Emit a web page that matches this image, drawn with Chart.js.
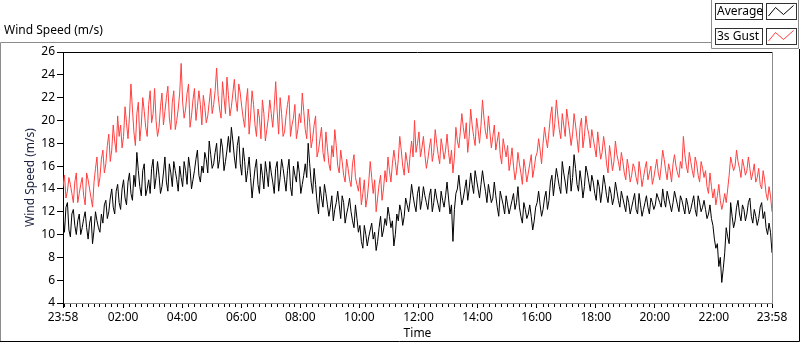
<!DOCTYPE html>
<html>
<head>
<meta charset="utf-8">
<script src="https://cdn.jsdelivr.net/npm/chart.js@4"></script>
<style>
  html, body { margin: 0; padding: 0; background: #fff; }
  canvas { display: block; }
</style>
</head>
<body>
<canvas id="windChart" width="800" height="342"></canvas>
<script>
// samples every 3 minutes, 23:58 -> 23:58 next day
const sampleStep = 3;

const avgSpeed = [
  11.6, 10.2, 12.4, 12.8, 10.4, 9.8, 11.8, 12.2, 10.8, 10.0, 11.2, 11.8, 10.0, 10.6, 11.4, 12.0, 10.6, 9.6, 11.0, 11.6,
  9.2, 10.4, 12.0, 11.2, 10.6, 10.2, 11.8, 11.0, 12.6, 13.0, 11.4, 12.0, 13.2, 14.0, 12.4, 11.8, 13.8, 14.4, 12.8, 12.2,
  14.0, 14.8, 13.2, 12.6, 14.6, 15.4, 13.6, 13.0, 15.2, 14.2, 17.2, 15.6, 14.2, 13.4, 15.6, 16.2, 13.4, 14.0, 14.8, 13.6,
  15.8, 16.6, 14.0, 15.0, 16.4, 15.2, 13.6, 14.2, 15.4, 16.8, 14.6, 13.8, 16.2, 15.4, 14.2, 16.4, 15.6, 14.8, 13.8, 16.0,
  15.0, 14.2, 16.4, 15.6, 14.4, 16.8, 15.8, 14.0, 14.8, 15.6, 16.6, 17.4, 15.2, 14.6, 16.0, 15.4, 17.2, 16.6, 15.4, 18.2,
  17.0, 15.8, 16.2, 17.2, 18.0, 15.8, 16.6, 18.4, 17.6, 15.6, 16.4, 17.4, 18.6, 17.2, 19.4, 18.2, 16.8, 15.8, 17.8, 18.6,
  16.2, 15.2, 17.6, 16.4, 14.6, 15.6, 16.8, 15.0, 13.2, 14.6, 15.8, 16.6, 14.4, 13.6, 16.2, 15.2, 14.0, 16.4, 15.4, 14.2,
  16.4, 15.4, 14.6, 13.6, 15.8, 16.4, 13.8, 15.0, 16.6, 15.8, 14.8, 13.8, 15.6, 16.6, 14.2, 13.4, 16.0, 15.2, 14.6, 16.4,
  15.4, 13.6, 14.4, 15.2, 16.2, 15.0, 18.0, 16.2, 14.6, 13.6, 15.8, 14.4, 12.8, 11.8, 14.2, 13.2, 12.4, 14.4, 13.6, 12.6,
  11.6, 12.4, 13.4, 11.2, 12.2, 12.8, 13.8, 12.6, 11.4, 13.4, 12.8, 11.0, 11.8, 12.4, 13.2, 12.0, 11.2, 10.6, 12.6, 11.4,
  10.2, 10.8, 9.4, 8.8, 10.8, 10.0, 9.0, 9.8, 10.4, 11.0, 9.6, 10.2, 8.6, 9.4, 10.6, 11.6, 9.8, 10.4, 11.4, 10.8,
  12.4, 11.6, 10.6, 11.2, 9.0, 10.0, 11.8, 11.2, 12.6, 12.0, 10.8, 11.6, 13.2, 12.6, 12.0, 13.0, 14.4, 13.4, 12.6, 12.0,
  13.6, 14.2, 12.2, 13.0, 14.2, 13.4, 12.8, 12.2, 13.4, 14.0, 12.0, 12.8, 14.0, 13.2, 12.6, 12.0, 13.8, 13.0, 12.4, 13.4,
  14.6, 13.2, 11.8, 12.6, 9.4, 12.2, 13.6, 14.0, 15.2, 13.8, 12.6, 13.2, 14.0, 14.8, 13.0, 14.0, 15.4, 14.4, 13.6, 15.6,
  14.8, 14.0, 13.2, 14.4, 15.6, 14.6, 13.8, 12.8, 14.4, 13.6, 12.8, 13.2, 14.6, 13.4, 12.4, 11.6, 13.8, 13.2, 12.6, 11.8,
  13.4, 12.6, 11.8, 12.4, 13.0, 13.6, 12.2, 12.8, 14.2, 12.4, 11.6, 11.0, 12.8, 12.2, 11.4, 11.8, 12.6, 11.6, 10.4, 11.2,
  12.4, 12.8, 13.8, 12.6, 11.6, 12.2, 13.2, 13.8, 12.2, 13.0, 14.6, 15.2, 13.4, 14.6, 15.8, 15.0, 14.2, 13.6, 16.4, 15.4,
  14.6, 13.6, 15.2, 16.0, 13.8, 15.0, 17.0, 15.8, 14.4, 13.8, 15.6, 14.6, 13.2, 14.2, 16.0, 15.4, 14.6, 13.8, 15.2, 14.6,
  13.6, 13.0, 14.8, 14.2, 12.8, 13.8, 15.2, 14.4, 13.4, 12.8, 14.2, 13.6, 12.6, 13.2, 14.6, 13.8, 13.0, 12.4, 13.8, 13.2,
  12.6, 12.0, 13.4, 12.8, 11.8, 12.4, 13.0, 13.6, 12.2, 11.8, 13.6, 12.6, 11.6, 12.2, 12.8, 13.4, 12.4, 11.8, 13.2, 12.8,
  12.2, 12.6, 13.6, 13.2, 12.8, 12.4, 14.0, 13.0, 12.4, 13.8, 13.2, 12.6, 12.0, 12.8, 13.8, 13.2, 12.6, 12.0, 13.4, 13.0,
  12.4, 11.8, 13.2, 12.6, 11.8, 12.2, 12.8, 13.4, 12.2, 11.6, 13.4, 12.8, 12.0, 12.4, 13.0, 12.2, 11.4, 11.8, 12.6, 11.4,
  10.8, 9.6, 8.8, 9.2, 7.2, 8.0, 5.8, 7.0, 8.4, 10.6, 9.8, 9.2, 12.8, 11.6, 10.6, 11.2, 12.4, 13.0, 11.8, 11.2,
  12.6, 12.2, 11.2, 11.8, 12.8, 13.2, 11.6, 11.0, 12.2, 11.6, 10.8, 11.4, 12.4, 12.8, 11.4, 12.0, 10.6, 10.0, 11.0, 10.2, 8.4
];

const gustSpeed = [
  14.2, 15.2, 13.2, 13.8, 15.0, 14.4, 13.6, 12.8, 14.6, 15.4, 12.8, 13.6, 14.4, 15.0, 13.4, 12.6, 15.4, 14.8, 14.0, 13.2,
  12.4, 14.6, 15.8, 16.8, 14.2, 15.0, 16.6, 17.4, 15.4, 16.2, 17.8, 18.8, 16.4, 17.4, 19.6, 18.2, 17.2, 20.4, 18.6, 19.6,
  17.6, 18.6, 21.2, 19.8, 18.4, 20.4, 23.2, 21.0, 19.0, 17.8, 20.6, 21.6, 18.2, 19.6, 22.0, 20.8, 19.4, 18.6, 21.4, 22.6,
  19.8, 20.6, 22.8, 20.0, 18.6, 19.4, 21.2, 22.4, 19.6, 20.8, 22.0, 23.0, 20.2, 19.2, 21.6, 22.6, 19.2, 20.0, 21.0, 22.4,
  25.0, 21.6, 20.2, 21.0, 22.4, 23.2, 19.4, 20.4, 21.8, 22.8, 20.0, 21.2, 22.6, 21.4, 19.6, 22.2, 21.2, 19.8, 20.4, 21.6,
  22.8, 20.6, 21.4, 22.6, 24.6, 22.2, 21.0, 20.2, 23.4, 22.0, 20.6, 23.8, 22.2, 20.4, 21.2, 22.4, 23.6, 21.8, 20.8, 23.2,
  22.4, 21.2, 20.2, 19.4, 21.6, 22.8, 18.8, 20.4, 22.6, 21.4, 19.6, 18.6, 21.0, 20.2, 18.4, 21.8, 20.6, 18.2, 19.2, 20.2,
  21.8, 20.6, 19.4, 21.2, 23.4, 20.8, 18.8, 22.0, 20.6, 18.6, 19.0, 20.4, 21.4, 22.2, 18.6, 19.6, 20.2, 21.4, 18.4, 19.2,
  20.6, 19.8, 22.4, 20.8, 19.2, 18.4, 21.0, 19.8, 17.6, 18.4, 19.6, 20.4, 16.8, 17.4, 18.4, 19.4, 17.2, 16.4, 19.0, 17.6,
  16.2, 15.6, 17.8, 16.8, 19.2, 17.8, 16.0, 15.4, 17.4, 16.4, 15.2, 14.6, 16.6, 15.8, 14.8, 14.2, 16.2, 17.0, 15.0, 14.4,
  13.8, 15.0, 12.6, 13.6, 14.8, 12.4, 13.2, 14.6, 16.4, 15.0, 13.6, 14.8, 12.0, 13.2, 14.4, 15.2, 13.0, 14.0, 15.6, 14.6,
  16.8, 15.6, 14.6, 16.2, 17.4, 16.4, 15.2, 16.6, 18.6, 17.4, 16.0, 15.2, 17.2, 16.4, 15.4, 17.0, 18.2, 16.8, 20.0, 17.2,
  18.0, 19.0, 16.8, 17.6, 18.6, 17.0, 15.8, 16.6, 17.6, 18.4, 16.4, 17.2, 19.2, 18.0, 17.0, 16.2, 18.4, 17.6, 16.6, 17.4,
  18.8, 17.2, 16.2, 17.4, 15.4, 16.8, 19.4, 18.2, 17.6, 19.0, 20.6, 19.4, 18.4, 19.8, 17.2, 18.6, 21.0, 19.6, 18.6, 17.8,
  20.2, 19.2, 18.0, 19.6, 21.8, 20.2, 19.0, 18.4, 20.4, 19.0, 17.6, 18.6, 19.6, 17.4, 18.2, 19.0, 17.0, 16.2, 18.4, 17.6,
  16.8, 17.8, 15.6, 16.4, 17.6, 16.0, 14.8, 15.6, 17.2, 16.2, 15.4, 14.4, 16.6, 15.8, 14.6, 15.4, 16.2, 17.0, 15.0, 15.8,
  16.8, 17.2, 18.4, 17.4, 16.2, 18.0, 19.4, 18.4, 17.6, 19.0, 20.4, 21.2, 18.6, 19.8, 21.8, 20.4, 19.2, 18.4, 20.6, 19.6,
  18.6, 21.0, 20.0, 19.0, 17.8, 18.8, 20.6, 19.6, 18.4, 17.2, 19.4, 20.2, 17.6, 18.6, 20.4, 19.4, 18.8, 17.6, 19.2, 18.4,
  17.6, 16.8, 19.0, 17.8, 16.6, 17.2, 18.6, 17.6, 16.2, 15.4, 17.8, 16.8, 15.6, 16.4, 18.2, 17.0, 16.4, 15.6, 17.2, 16.4,
  15.4, 14.8, 16.6, 15.8, 14.6, 15.2, 16.2, 15.8, 15.0, 14.4, 16.4, 15.4, 14.2, 15.0, 15.8, 16.4, 14.8, 15.4, 16.0, 14.4,
  15.0, 15.8, 16.6, 15.4, 14.8, 16.0, 17.4, 16.6, 15.6, 14.8, 16.2, 15.6, 14.6, 16.2, 17.0, 16.0, 15.4, 15.0, 16.4, 15.8,
  18.6, 17.0, 16.0, 15.4, 17.2, 16.4, 15.6, 15.0, 16.8, 16.2, 15.2, 14.6, 16.4, 15.8, 15.0, 15.6, 14.2, 13.6, 15.4, 14.2,
  13.2, 14.0, 12.6, 13.4, 14.4, 13.0, 12.2, 12.8, 13.6, 12.8, 14.0, 15.2, 16.8, 16.2, 15.6, 16.0, 17.4, 16.4, 15.8, 15.0,
  16.6, 16.0, 15.2, 15.6, 16.8, 15.8, 14.8, 15.4, 16.2, 14.6, 15.0, 15.8, 14.4, 14.0, 15.6, 14.8, 13.6, 13.0, 14.2, 13.4, 12.0
];

const sampleMinutes = avgSpeed.map((v, i) => i * sampleStep);

const tickMinutes = [0, 122, 242, 362, 482, 602, 722, 842, 962, 1082, 1202, 1322, 1440];
const tickLabels = ["23:58", "02:00", "04:00", "06:00", "08:00", "10:00", "12:00",
                    "14:00", "16:00", "18:00", "20:00", "22:00", "23:58"];
const yTicks = [4, 6, 8, 10, 12, 14, 16, 18, 20, 22, 24, 26];

const seriesNames = ["Average", "3s Gust"];
const seriesColors = ["#000000", "#ff4040"];

const FONT = "'Segoe UI', 'Noto Sans', 'Open Sans', sans-serif";
Chart.defaults.font.family = FONT;
Chart.defaults.font.size = 12;
Chart.defaults.color = "#000";

// frame, title, legend, minor ticks, top/right plot border
const labviewFrame = {
  id: "labviewFrame",
  afterDraw(chart) {
    const ctx = chart.ctx;
    const area = chart.chartArea;
    const xs = chart.scales.x;
    ctx.save();
    ctx.lineWidth = 1;

    // plot border top (black) and right (gray)
    ctx.strokeStyle = "#000";
    ctx.beginPath();
    ctx.moveTo(area.left, Math.round(area.top) + 0.5);
    ctx.lineTo(area.right, Math.round(area.top) + 0.5);
    ctx.stroke();
    ctx.strokeStyle = "#8c8c8c";
    ctx.beginPath();
    ctx.moveTo(Math.round(area.right) + 0.5, area.top);
    ctx.lineTo(Math.round(area.right) + 0.5, area.bottom + 1);
    ctx.stroke();

    // minor x ticks every 12 min from 00:00
    ctx.strokeStyle = "#000";
    ctx.beginPath();
    for (let m = 2; m < 1440; m += 12) {
      if (tickMinutes.includes(m)) continue;
      const px = Math.round(xs.getPixelForValue(m)) + 0.5;
      ctx.moveTo(px, area.bottom + 1);
      ctx.lineTo(px, area.bottom + 4);
    }
    ctx.stroke();

    // outer frame
    ctx.strokeStyle = "#8c8c8c";
    ctx.beginPath();
    ctx.moveTo(0.5, 341);
    ctx.lineTo(0.5, 42.5);
    ctx.lineTo(711.5, 42.5);
    ctx.stroke();
    ctx.strokeStyle = "#000";
    ctx.beginPath();
    ctx.moveTo(0, 341.5);
    ctx.lineTo(799.5, 341.5);
    ctx.lineTo(799.5, 49);
    ctx.stroke();

    // legend panel
    ctx.strokeStyle = "#8c8c8c";
    ctx.beginPath();
    ctx.moveTo(711.5, 0);
    ctx.lineTo(711.5, 48.5);
    ctx.lineTo(798.5, 48.5);
    ctx.lineTo(798.5, 0);
    ctx.stroke();

    // title
    ctx.fillStyle = "#000";
    ctx.font = "12px " + FONT;
    ctx.textBaseline = "middle";
    ctx.textAlign = "left";
    ctx.fillText("Wind Speed (m/s)", 4, 31);

    // legend rows
    seriesNames.forEach((name, i) => {
      const top = 3.5 + i * 25;
      ctx.strokeStyle = "#303030";
      ctx.fillStyle = "#fff";
      ctx.fillRect(715.5, top, 47, 16);
      ctx.strokeRect(715.5, top, 47, 16);
      ctx.fillRect(766.5, top, 30, 16);
      ctx.strokeRect(766.5, top, 30, 16);
      ctx.fillStyle = "#000";
      ctx.fillText(name, 717, top + 8.5);
      ctx.strokeStyle = seriesColors[i];
      ctx.beginPath();
      ctx.moveTo(768.5, top + 12.5);
      ctx.lineTo(775.5, top + 4);
      ctx.lineTo(783.5, top + 11);
      ctx.lineTo(793.5, top + 2);
      ctx.stroke();
    });
    ctx.restore();
  }
};

new Chart(document.getElementById("windChart"), {
  type: "line",
  data: {
    labels: sampleMinutes,
    datasets: seriesNames.map((name, i) => ({
      label: name,
      data: i === 0 ? avgSpeed : gustSpeed,
      borderColor: seriesColors[i],
      borderWidth: 1,
      pointRadius: 0,
      tension: 0,
      order: i === 0 ? 0 : 1
    }))
  },
  options: {
    responsive: false,
    animation: false,
    layout: { padding: { top: 52, right: 28, bottom: 0, left: 0 } },
    plugins: { legend: { display: false }, tooltip: { enabled: false } },
    scales: {
      x: {
        type: "linear",
        min: 0,
        max: 1440,
        afterFit: s => { s.height = 39; },
        afterBuildTicks: s => { s.ticks = tickMinutes.map(v => ({ value: v })); },
        ticks: {
          autoSkip: false,
          maxRotation: 0,
          padding: 2,
          color: "#000",
          callback: v => tickLabels[tickMinutes.indexOf(v)]
        },
        grid: { drawOnChartArea: false, tickLength: 5, tickColor: "#000" },
        border: { color: "#8c8c8c" },
        title: { display: true, text: "Time", color: "#000", padding: { top: 0, bottom: 1 } }
      },
      y: {
        min: 4,
        max: 26,
        afterFit: s => { s.width = 63; },
        afterBuildTicks: s => { s.ticks = yTicks.map(v => ({ value: v })); },
        ticks: { padding: 2, color: "#000" },
        grid: { drawOnChartArea: false, tickLength: 6, tickColor: "#000" },
        border: { color: "#000" },
        title: { display: true, text: "Wind Speed (m/s)", color: "#1a2040", padding: { top: 23 } }
      }
    }
  },
  plugins: [labviewFrame]
});
</script>
</body>
</html>
